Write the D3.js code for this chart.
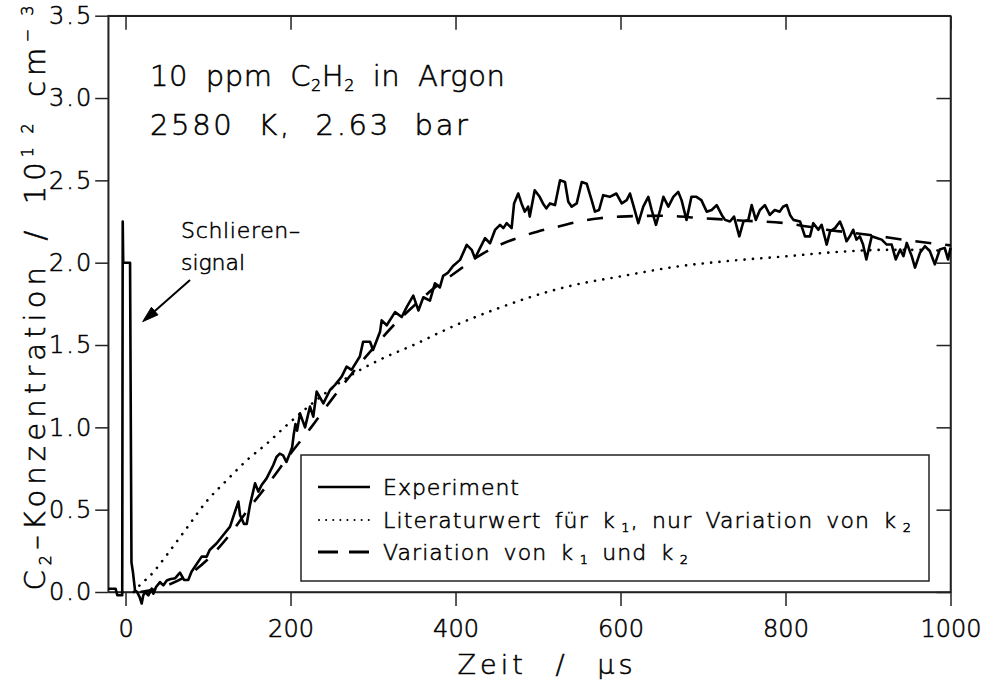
<!DOCTYPE html>
<html lang="de">
<head>
<meta charset="utf-8">
<script src="https://cdn.jsdelivr.net/npm/d3@7"></script>
<style type="text/css">
body {
	margin: 0;
	background: #fff;
}
svg text {
	font-family: "DejaVu Sans", sans-serif;
	font-weight: 200;
	fill: #000;
	stroke: #000;
	stroke-width: 0.55px;
}
.axis path, .axis line {
	stroke: #222;
	stroke-width: 1.5;
}
</style>
</head>
<body>
<script type="text/javascript">

// Experiment (Messkurve, inkl. Schlierensignal am Anfang)
var expTime = [-21, -12, -10, -4, -3.4, -2.8, 5.5, 7.2, 9, 11.5, 14, 17, 19.6, 21.5, 23.6, 27.7, 31.7, 33.7, 37, 41.8,
	45.8, 50, 53.9, 60, 66, 70.9, 76, 80, 86.3, 92.3, 98.4, 102, 110.5, 118.5, 126.7, 132.7, 136.8, 138.8, 143.6, 146.9,
	150.9, 157, 161, 165, 171, 179, 183, 187, 191, 195, 199, 202, 204, 206, 208, 211.5, 217.6, 223.6, 227.6, 231.7,
	239.8, 247.9, 254, 262, 268, 274, 284, 288, 296.4, 300, 308.5, 310.5, 316.6, 326.7, 334.8, 340.8, 348.8, 355, 361, 369,
	375, 381, 385, 391, 397, 405.5, 413.6, 419.6, 423.6, 429.7, 435.8, 441.8, 447.9, 454, 458, 462, 468, 471, 476, 480,
	484, 488, 490, 496, 502, 506, 510, 514.5, 520.6, 526.7, 532.7, 536.7, 540.8, 546.9, 553, 559, 565, 569, 574, 579,
	587, 595, 601.5, 607.5, 611.5, 615.5, 621.6, 627.6, 633.7, 637.8, 643, 648, 652, 658, 664, 670, 674, 680, 686, 692,
	698, 704.5, 710.5, 716.6, 722.7, 726.7, 732.7, 737.6, 744, 749, 755, 759, 764, 769, 775, 781, 787, 793, 797, 801.5,
	805.5, 809.5, 817.6, 823.6, 829.7, 833.7, 839.8, 843.8, 849.9, 854, 860, 866, 870, 874, 878, 882, 886, 890, 894, 898,
	904.5, 910.5, 916.6, 922.7, 928.7, 933.6, 939, 943, 947, 953, 957, 963, 969, 975, 981, 987, 993, 997, 1000];
var expConc = [0.02, 0.02, -0.02, -0.02, 2.25, 2.0, 2.0, 0.18, 0.12, 0.01, 0.0, -0.03, -0.07, -0.02, 0.0, -0.02, 0.02, -0.01, 0.03, 0.06,
	0.04, 0.07, 0.077, 0.083, 0.117, 0.073, 0.073, 0.123, 0.17, 0.215, 0.215, 0.255, 0.296, 0.346, 0.397, 0.488, 0.549, 0.468, 0.413, 0.413,
	0.529, 0.66, 0.61, 0.65, 0.69, 0.77, 0.82, 0.84, 0.83, 0.79, 0.84, 0.88, 0.96, 1.02, 0.98, 1.085, 1.0, 1.126, 1.065, 1.217,
	1.146, 1.227, 1.258, 1.308, 1.369, 1.349, 1.43, 1.52, 1.52, 1.47, 1.58, 1.65, 1.62, 1.70, 1.67, 1.73, 1.80, 1.71, 1.79, 1.77,
	1.875, 1.85, 1.92, 1.94, 1.98, 2.017, 2.108, 2.078, 2.027, 2.088, 2.149, 2.118, 2.199, 2.23, 2.21, 2.24, 2.21, 2.36, 2.42, 2.36,
	2.31, 2.34, 2.28, 2.44, 2.40, 2.36, 2.33, 2.36, 2.35, 2.50, 2.49, 2.37, 2.34, 2.36, 2.49, 2.48, 2.38, 2.31, 2.32, 2.41,
	2.40, 2.42, 2.36, 2.38, 2.42, 2.35, 2.24, 2.34, 2.40, 2.32, 2.23, 2.32, 2.40, 2.34, 2.40, 2.43, 2.38, 2.26, 2.40, 2.40,
	2.38, 2.31, 2.32, 2.35, 2.29, 2.26, 2.25, 2.28, 2.16, 2.25, 2.26, 2.35, 2.26, 2.32, 2.35, 2.29, 2.32, 2.31, 2.34, 2.35,
	2.29, 2.26, 2.25, 2.16, 2.16, 2.24, 2.20, 2.23, 2.11, 2.19, 2.21, 2.25, 2.20, 2.13, 2.16, 2.20, 2.14, 2.16, 2.11, 2.02,
	2.16, 2.15, 2.14, 2.11, 2.11, 2.02, 2.08, 2.04, 2.12, 2.04, 1.97, 2.06, 2.10, 2.07, 1.99, 2.08, 2.09, 2.02, 2.09];

// Literaturwert fuer k1, nur Variation von k2 (gepunktet)
var litTime = [10, 17.6, 30, 50, 74, 98, 123, 147, 171, 197, 230, 268, 308, 349, 400, 450, 490, 540, 599, 668, 730, 797, 868, 920, 965, 1000];
var litConc = [0, 0.043, 0.10, 0.225, 0.387, 0.549, 0.68, 0.80, 0.90, 1.02, 1.16, 1.30, 1.41, 1.50, 1.62, 1.72, 1.79, 1.86, 1.916, 1.976, 2.01, 2.037, 2.067, 2.078, 2.078, 2.067];

// Variation von k1 und k2 (gestrichelt)
var varTime = [18, 30, 50, 75, 100, 125, 150, 175, 200, 225, 250, 275, 300, 325, 350, 375, 400, 425, 450, 475, 500, 525, 550, 575, 600, 650, 700, 750, 800, 850, 900, 950, 1000];
var varConc = [0, 0.01, 0.04, 0.10, 0.2, 0.34, 0.51, 0.67, 0.84, 1.0, 1.17, 1.33, 1.48, 1.62, 1.74, 1.85, 1.94, 2.03, 2.10, 2.15, 2.19, 2.22, 2.25, 2.27, 2.28, 2.285, 2.27, 2.255, 2.24, 2.20, 2.17, 2.135, 2.105];

var xTicks = [0, 200, 400, 600, 800, 1000];
var yTicks = [0, 0.5, 1.0, 1.5, 2.0, 2.5, 3.0, 3.5];

var width = 981;
var height = 692;

var x = d3.scaleLinear().domain([-21, 1000]).range([108.2, 950.5]);
var y = d3.scaleLinear().domain([0, 3.5]).range([592, 15.7]);

var svg = d3.select("body")
	.append("svg")
	.attr("width", width)
	.attr("height", height);

svg.append("rect").attr("width", width).attr("height", height).attr("fill", "#fff");

// axes: bottom + left with labels, top + right ticks only (inward)
var gx = svg.append("g").attr("class", "axis")
	.attr("transform", "translate(0," + y(0) + ")")
	.call(d3.axisBottom(x).tickValues(xTicks).tickSize(14).tickSizeOuter(0).tickPadding(14).tickFormat(d3.format("d")));
gx.selectAll("text").style("font-size", "24px").style("font-family", "DejaVu Sans").attr("fill", "#000");

var gy = svg.append("g").attr("class", "axis")
	.attr("transform", "translate(" + x(-21) + ",0)")
	.call(d3.axisLeft(y).tickValues(yTicks).tickSize(13).tickSizeOuter(0).tickPadding(2).tickFormat(d3.format(".1f")));
gy.selectAll("text").style("font-size", "24px").style("font-family", "DejaVu Sans").attr("fill", "#000")
	.style("letter-spacing", "2px");

svg.append("g").attr("class", "axis")
	.attr("transform", "translate(0," + y(3.5) + ")")
	.call(d3.axisBottom(x).tickValues(xTicks).tickSize(14).tickSizeOuter(0).tickFormat(""));

svg.append("g").attr("class", "axis")
	.attr("transform", "translate(" + x(1000) + ",0)")
	.call(d3.axisLeft(y).tickValues(yTicks).tickSize(14).tickSizeOuter(0).tickFormat(""));

svg.append("rect")
	.attr("x", x(-21)).attr("y", y(3.5))
	.attr("width", x(1000) - x(-21)).attr("height", y(0) - y(3.5))
	.attr("fill", "none").attr("stroke", "#222").attr("stroke-width", 1.5);

// curves
var lineMono = d3.line().x(d => x(d[0])).y(d => y(d[1])).curve(d3.curveMonotoneX);
var lineRaw = d3.line().x(d => x(d[0])).y(d => y(d[1]));

svg.append("path")
	.datum(litTime.map((t, i) => [t, litConc[i]]))
	.attr("d", lineMono)
	.attr("fill", "none").attr("stroke", "#000").attr("stroke-width", 2.6)
	.attr("stroke-linecap", "round").attr("stroke-dasharray", "0.1,8.3");

svg.append("path")
	.datum(varTime.map((t, i) => [t, varConc[i]]))
	.attr("d", lineMono)
	.attr("fill", "none").attr("stroke", "#000").attr("stroke-width", 2.6)
	.attr("stroke-dasharray", "16,14");

svg.append("path")
	.datum(expTime.map((t, i) => [t, expConc[i]]))
	.attr("d", lineRaw)
	.attr("fill", "none").attr("stroke", "#000").attr("stroke-width", 2.6)
	.attr("stroke-linejoin", "round");

// titles
var title1 = svg.append("text").attr("x", 150).attr("y", 86).style("font-size", "29px")
	.style("word-spacing", "8px")
	.attr("textLength", 355).attr("lengthAdjust", "spacing");
title1.append("tspan").text("10 ppm C");
title1.append("tspan").attr("dy", 5).style("font-size", "16px").text("2");
title1.append("tspan").attr("dy", -5).text("H");
title1.append("tspan").attr("dy", 5).style("font-size", "16px").text("2");
title1.append("tspan").attr("dy", -5).text(" in Argon");

svg.append("text").attr("x", 150).attr("y", 135).style("font-size", "29px")
	.style("word-spacing", "12px")
	.attr("textLength", 318).attr("lengthAdjust", "spacing")
	.text("2580 K, 2.63 bar");

// annotation
svg.append("text").attr("x", 181).attr("y", 238).style("font-size", "22px")
	.attr("textLength", 119).attr("lengthAdjust", "spacing").text("Schlieren\u2013");
svg.append("text").attr("x", 181).attr("y", 270).style("font-size", "22px")
	.attr("textLength", 64).attr("lengthAdjust", "spacing").text("signal");

var a0 = [x(78.2), y(1.895)], a1 = [x(20.8), y(1.642)];
var ang = Math.atan2(a1[1] - a0[1], a1[0] - a0[0]);
function pt(len, off) {
	return [a1[0] - len * Math.cos(ang) - off * Math.sin(ang), a1[1] - len * Math.sin(ang) + off * Math.cos(ang)];
}
svg.append("line")
	.attr("x1", a0[0]).attr("y1", a0[1]).attr("x2", pt(6, 0)[0]).attr("y2", pt(6, 0)[1])
	.attr("stroke", "#000").attr("stroke-width", 2);
svg.append("path")
	.attr("d", "M" + a1 + "L" + pt(16, 5) + "L" + pt(16, -5) + "Z")
	.attr("fill", "#000").attr("stroke", "#000").attr("stroke-width", 1);

// axis labels
svg.append("text").attr("x", 545).attr("y", 674).attr("text-anchor", "middle").style("font-size", "27px")
	.style("word-spacing", "16px")
	.attr("textLength", 175).attr("lengthAdjust", "spacing")
	.text("Zeit / \u00b5s");

var yl = svg.append("text").attr("transform", "translate(45,298) rotate(-90)")
	.attr("text-anchor", "middle").style("font-size", "29px")
	.style("word-spacing", "7px")
	.attr("textLength", 585).attr("lengthAdjust", "spacing");
yl.append("tspan").text("C");
yl.append("tspan").attr("dy", 6).style("font-size", "16px").text("2");
yl.append("tspan").attr("dy", -6).text("\u2013Konzentration / 10");
yl.append("tspan").attr("dy", -12).style("font-size", "16px").text("1\u20092");
yl.append("tspan").attr("dy", 12).text(" cm");
yl.append("tspan").attr("dy", -12).style("font-size", "16px").text("\u2212\u20093");

// legend
svg.append("rect").attr("x", 301).attr("y", 455).attr("width", 628).attr("height", 126)
	.attr("fill", "#fff").attr("stroke", "#222").attr("stroke-width", 1.5);

var legY = [487, 520, 552];
svg.append("line").attr("x1", 318).attr("x2", 370).attr("y1", legY[0]).attr("y2", legY[0])
	.attr("stroke", "#000").attr("stroke-width", 2.6);
svg.append("line").attr("x1", 319).attr("x2", 370).attr("y1", legY[1]).attr("y2", legY[1])
	.attr("stroke", "#000").attr("stroke-width", 2).attr("stroke-linecap", "round").attr("stroke-dasharray", "0.1,7");
svg.append("line").attr("x1", 318).attr("x2", 370).attr("y1", legY[2]).attr("y2", legY[2])
	.attr("stroke", "#000").attr("stroke-width", 3).attr("stroke-dasharray", "20,11");

svg.append("text").attr("x", 383).attr("y", legY[0] + 8).style("font-size", "22px")
	.attr("textLength", 136).attr("lengthAdjust", "spacing").text("Experiment");

var l2 = svg.append("text").attr("x", 383).attr("y", legY[1] + 8).style("font-size", "22px")
	.style("word-spacing", "5px")
	.attr("textLength", 528).attr("lengthAdjust", "spacing");
l2.append("tspan").text("Literaturwert f\u00fcr k\u2009");
l2.append("tspan").attr("dy", 4).style("font-size", "13px").text("1");
l2.append("tspan").attr("dy", -4).text(", nur Variation von k\u2009");
l2.append("tspan").attr("dy", 4).style("font-size", "13px").text("2");

var l3 = svg.append("text").attr("x", 383).attr("y", legY[2] + 8).style("font-size", "22px")
	.style("word-spacing", "5px")
	.attr("textLength", 305).attr("lengthAdjust", "spacing");
l3.append("tspan").text("Variation von k\u2009");
l3.append("tspan").attr("dy", 4).style("font-size", "13px").text("1");
l3.append("tspan").attr("dy", -4).text(" und k\u2009");
l3.append("tspan").attr("dy", 4).style("font-size", "13px").text("2");

</script>
</body>
</html>
